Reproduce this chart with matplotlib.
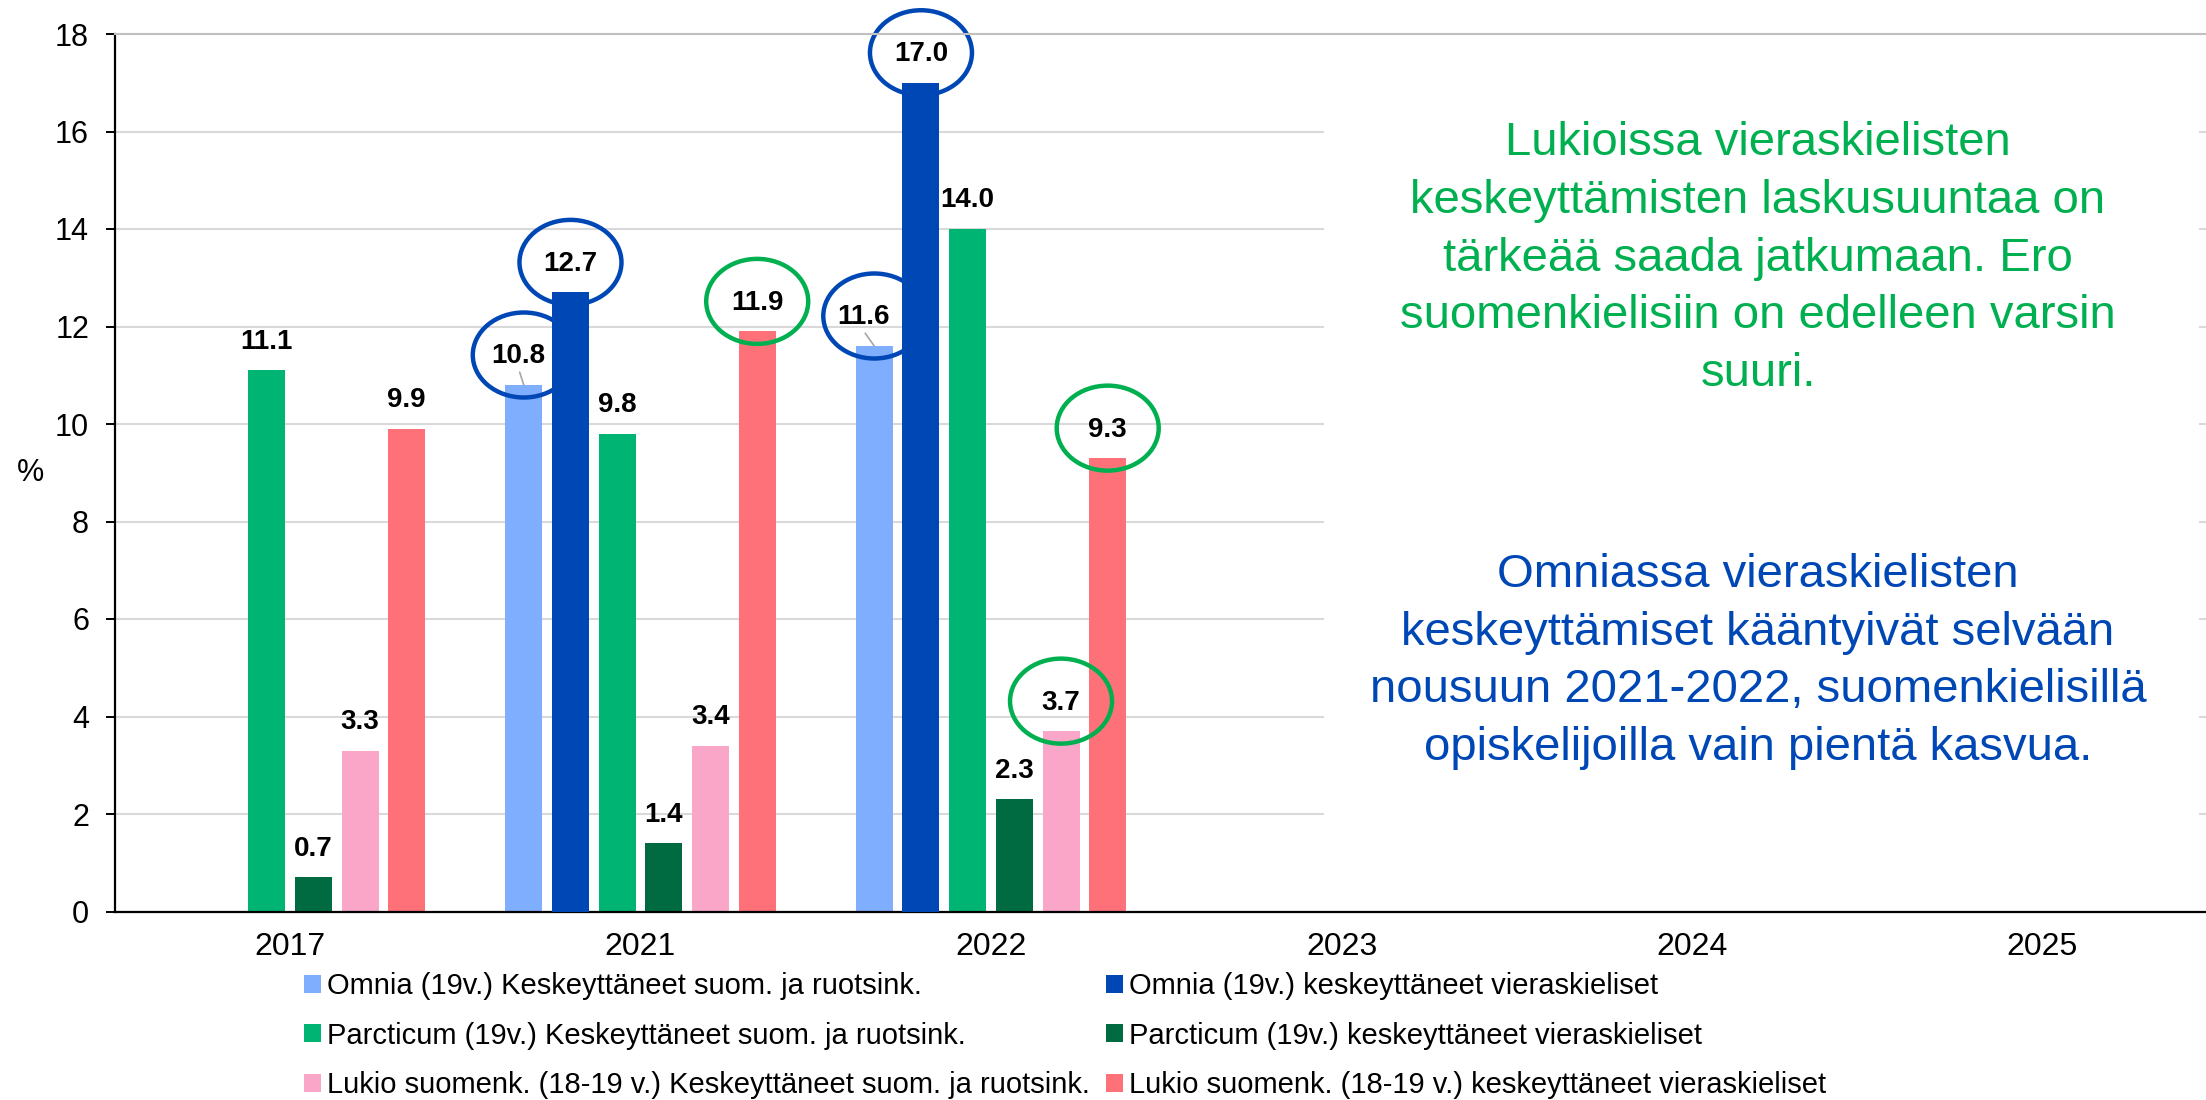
import numpy as np
import matplotlib
matplotlib.use('Agg')
import matplotlib.pyplot as plt
from matplotlib.patches import Ellipse, Rectangle

plt.rcParams['font.family'] = ['Liberation Sans', 'DejaVu Sans']

# Data
years = ['2017', '2021', '2022', '2023', '2024', '2025']
omnia_suom = [np.nan, 10.8, 11.6, np.nan, np.nan, np.nan]
omnia_vieras = [np.nan, 12.7, 17.0, np.nan, np.nan, np.nan]
parcticum_suom = [11.1, 9.8, 14.0, np.nan, np.nan, np.nan]
parcticum_vieras = [0.7, 1.4, 2.3, np.nan, np.nan, np.nan]
lukio_suom = [3.3, 3.4, 3.7, np.nan, np.nan, np.nan]
lukio_vieras = [9.9, 11.9, 9.3, np.nan, np.nan, np.nan]

series_names = [
    'Omnia (19v.) Keskeyttäneet suom. ja ruotsink.',
    'Omnia (19v.) keskeyttäneet vieraskieliset',
    'Parcticum (19v.) Keskeyttäneet suom. ja ruotsink.',
    'Parcticum (19v.) keskeyttäneet vieraskieliset',
    'Lukio suomenk. (18-19 v.) Keskeyttäneet suom. ja ruotsink.',
    'Lukio suomenk. (18-19 v.) keskeyttäneet vieraskieliset',
]
series_values = [omnia_suom, omnia_vieras, parcticum_suom,
                 parcticum_vieras, lukio_suom, lukio_vieras]
colors = ['#7FAEFF', '#0047B6', '#00B574', '#006B40', '#F9A6C8', '#FF7179']

# highlighted labels: (series index, year index, ring colour)
circled = [(0, 1, 'blue'), (1, 1, 'blue'), (5, 1, 'green'),
           (0, 2, 'blue'), (1, 2, 'blue'), (4, 2, 'green'), (5, 2, 'green')]
ring_colors = {'blue': '#0047B6', 'green': '#00B050'}

green_note = ['Lukioissa vieraskielisten',
              'keskeyttämisten laskusuuntaa on',
              'tärkeää saada jatkumaan. Ero',
              'suomenkielisiin on edelleen varsin',
              'suuri.']
blue_note = ['Omniassa vieraskielisten',
             'keskeyttämiset kääntyivät selvään',
             'nousuun 2021-2022, suomenkielisillä',
             'opiskelijoilla vain pientä kasvua.']

W, H = 2206, 1100
fig = plt.figure(figsize=(W / 100, H / 100), dpi=100)
ax = fig.add_axes([114.75 / W, 1 - 911.5 / H, 2103 / W, 877.5 / H])

x = np.arange(len(years))
step = 0.1332
bar_w = 0.1056
px_per_unit = 877.5 / 18

bars = []
for i, (vals, col, name) in enumerate(zip(series_values, colors, series_names)):
    z = 3 if i == 1 else 2
    b = ax.bar(x + (i - 2.5) * step, vals, width=bar_w, color=col, label=name, zorder=z)
    bars.append(b)
    for j, v in enumerate(vals):
        if np.isnan(v):
            continue
        dx = 0
        arrow = None
        if (i, j) == (0, 1):
            dx = -3.6
        if (i, j) == (0, 2):
            dx = -8
        if dx != 0:
            arrow = dict(arrowstyle='-', color='#a6a6a6', lw=1.2,
                         shrinkA=0, shrinkB=0, relpos=(0.5, 0))
        ax.annotate(f'{v:.1f}', (x[j] + (i - 2.5) * step, v), xytext=(dx, 15.5),
                    textcoords='offset points', ha='center', va='baseline',
                    fontsize=20, fontweight='bold', zorder=6, arrowprops=arrow,
                    annotation_clip=False)

# rings around the highlighted labels
for i, j, c in circled:
    v = series_values[i][j]
    cx = x[j] + (i - 2.5) * step
    cy = v + 30 / px_per_unit
    e = Ellipse((cx, cy), 102 / 350.5, 85 / px_per_unit, facecolor='none',
                edgecolor=ring_colors[c], lw=3.2, zorder=2.5 if c == 'blue' else 4,
                clip_on=False)
    ax.add_patch(e)

ax.set_xlim(-0.5, 5.5)
ax.set_ylim(0, 18)
ax.set_yticks(np.arange(0, 19, 2))
ax.set_xticks(x)
ax.set_xticklabels(years)
ax.tick_params(axis='y', labelsize=22, length=6.5, width=1.4, pad=12)
ax.tick_params(axis='x', labelsize=23, length=0, pad=14.5)
ax.set_axisbelow(True)
ax.yaxis.grid(True, color='#d9d9d9', lw=1.5)
ax.spines['right'].set_visible(False)
ax.spines['top'].set_color('#c0c0c0')
ax.spines['top'].set_linewidth(1.5)
ax.spines['left'].set_linewidth(1.6)
ax.spines['bottom'].set_linewidth(1.6)
ax.set_ylabel('%', rotation=0, fontsize=22, ha='center', va='center')
ax.yaxis.set_label_coords((30 - 114.75) / 2103, 0.5)

# white note box hides the gridlines behind the comments
ax.add_patch(Rectangle((0.575, 0.059), 0.416, 0.911, transform=ax.transAxes,
                       facecolor='white', edgecolor='none', zorder=1))

for k, line in enumerate(green_note):
    fig.text(1758 / W, 1 - (155 + 57.8 * k) / H, line, ha='center', va='baseline',
             fontsize=34, color='#00B050')
for k, line in enumerate(blue_note):
    fig.text(1758 / W, 1 - (587 + 57.7 * k) / H, line, ha='center', va='baseline',
             fontsize=34, color='#0047B6')

# legend: two columns, Omnia / Parcticum / Lukio rows
order = [0, 2, 4, 1, 3, 5]
fig.legend([bars[k] for k in order], [series_names[k] for k in order], ncol=2,
           loc='upper left', bbox_to_anchor=(304 / W, 1 - 972 / H), frameon=False,
           fontsize=21, handlelength=0.59, handleheight=0.59, handletextpad=0.2,
           columnspacing=0.55, labelspacing=0.74, borderpad=0, borderaxespad=0)

fig.savefig('out.png', dpi=100)
